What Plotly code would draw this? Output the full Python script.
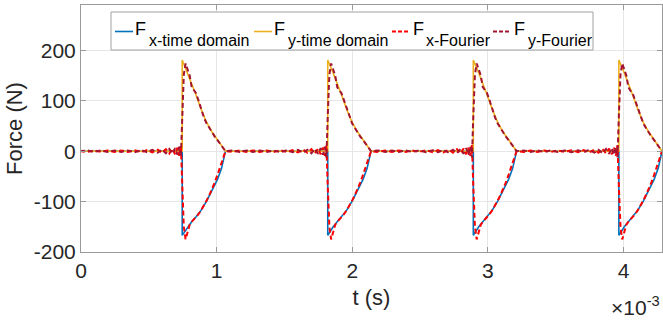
import plotly.graph_objects as go

# time unit: 1e-3 s
pulse_start = [0.746, 1.819, 2.892, 3.965]

# time-domain pulse shape (offsets from pulse start)
td_off = [-0.754, 0.0, 0.0, 0.04, 0.07, 0.10, 0.14, 0.18, 0.22, 0.26, 0.29, 0.318]
fx_td = [0, 0, -167, -150, -140, -131, -117, -99, -79, -56, -34, 0]
fy_td = [0, 0, 181, 155, 132, 113, 83, 57, 38, 23, 11, 0]

# Fourier reconstruction shape (offsets from pulse start)
fr_off = [-0.754, -0.70, -0.65, -0.60, -0.55, -0.50, -0.45, -0.40, -0.35, -0.30,
          -0.26, -0.22, -0.18, -0.15, -0.12, -0.095, -0.072, -0.052, -0.035, -0.022,
          -0.01, 0.0, 0.012, 0.025, 0.04, 0.055, 0.07, 0.085, 0.10, 0.12, 0.14,
          0.16, 0.18, 0.20, 0.22, 0.24, 0.26, 0.28, 0.30, 0.318]
fx_fr = [0, -1.5, 1.5, -1.5, 1.5, -1.5, 1.5, -1.5, 2, -2, 2, -2.5, 3, -3, 4, -4.5,
         5, -6, 7, -9, 12, -70, -150, -175, -160, -146, -140, -136, -131, -125, -117,
         -108, -98, -87, -75, -62, -47, -30, -14, 0]
fy_fr = [0, 1.5, -1.5, 1.5, -1.5, 1.5, -1.5, 1.5, -2, 2, -2, 2.5, -3, 3, -4, 4.5,
         -5, 6, -7, 9, -12, 70, 152, 174, 162, 150, 127, 120, 116, 101, 82, 67, 55,
         46, 37, 29, 22, 14, 6, 0]

x_ticks = [0, 1, 2, 3, 4]
y_ticks = [-200, -100, 0, 100, 200]

series_names = ["x-time domain", "y-time domain", "x-Fourier", "y-Fourier"]
series_colors = ["#0072BD", "#EDB120", "#FF0000", "#A2142F"]


def build(offsets, values):
    xs, ys = [], []
    for s in pulse_start:
        xs += [s + o for o in offsets]
        ys += list(values)
    return xs, ys


fig = go.Figure()
x1, y1 = build(td_off, fx_td)
x2, y2 = build(td_off, fy_td)
x3, y3 = build(fr_off, fx_fr)
x4, y4 = build(fr_off, fy_fr)

dash_style = "5px,3px"
fig.add_trace(go.Scatter(x=x1, y=y1, mode="lines", name="F<sub>x-time domain</sub>",
                         line=dict(color=series_colors[0], width=1.6)))
fig.add_trace(go.Scatter(x=x2, y=y2, mode="lines", name="F<sub>y-time domain</sub>",
                         line=dict(color=series_colors[1], width=1.6)))
fig.add_trace(go.Scatter(x=x3, y=y3, mode="lines", name="F<sub>x-Fourier</sub>",
                         line=dict(color=series_colors[2], width=2, dash=dash_style)))
fig.add_trace(go.Scatter(x=x4, y=y4, mode="lines", name="F<sub>y-Fourier</sub>",
                         line=dict(color=series_colors[3], width=2, dash=dash_style)))

font_family = "Liberation Sans, Arial, sans-serif"
axis_common = dict(showline=True, linecolor="#9a9a9a", linewidth=1, mirror="ticks",
                   ticks="inside", ticklen=5, tickcolor="#9a9a9a", showgrid=True,
                   gridcolor="#e6e6e6", gridwidth=1, zeroline=False,
                   tickfont=dict(size=21, color="#262626", family=font_family))

# plot-area geometry in pixels (for legend box placement)
L, R, T, B = 81, 662, 5, 252


def px_x(p):
    return (p - L) / (R - L)


def px_y(p):
    return (B - p) / (B - T)


# custom MATLAB-style legend
shapes = [dict(type="rect", xref="paper", yref="paper",
               x0=px_x(111), x1=px_x(593), y0=px_y(50), y1=px_y(12),
               fillcolor="white", line=dict(color="#a0a0a0", width=1), layer="above")]
annotations = []
sample_x = [115, 254, 392, 493]
f_x = [134, 273, 412, 513]
sub_x = [148, 287, 425, 527]
for i, name in enumerate(series_names):
    shapes.append(dict(type="line", xref="paper", yref="paper",
                       x0=px_x(sample_x[i]), x1=px_x(sample_x[i] + 18),
                       y0=px_y(31.5), y1=px_y(31.5), layer="above",
                       line=dict(color=series_colors[i], width=2 if i >= 2 else 1.6,
                                 dash="4px,2px" if i >= 2 else "solid")))
    annotations.append(dict(text="F", xref="paper", yref="paper",
                            x=px_x(f_x[i]), y=px_y(29.5), xanchor="left", yanchor="middle",
                            showarrow=False, borderpad=0,
                            font=dict(size=18, color="#000000", family=font_family)))
    annotations.append(dict(text=name, xref="paper", yref="paper",
                            x=px_x(sub_x[i]), y=px_y(40.5), xanchor="left", yanchor="middle",
                            showarrow=False, borderpad=0,
                            font=dict(size=16, color="#000000", family=font_family)))

annotations.append(dict(text="\u00d710<sup>-3</sup>", xref="paper", yref="paper",
                        x=px_x(661), y=px_y(306), xanchor="right", yanchor="middle",
                        showarrow=False, borderpad=0,
                        font=dict(size=21, color="#262626", family=font_family)))

fig.update_layout(
    width=663, height=321,
    margin=dict(l=L, r=663 - R, t=T, b=321 - B),
    paper_bgcolor="white", plot_bgcolor="white",
    font=dict(family=font_family, color="#262626"),
    xaxis=dict(range=[0, 4.283], tickvals=x_ticks, ticktext=[str(v) for v in x_ticks],
               title=dict(text="t (s)", font=dict(size=22), standoff=8), **axis_common),
    yaxis=dict(range=[-200, 290], tickvals=y_ticks, ticktext=[str(v) for v in y_ticks],
               title=dict(text="Force (N)", font=dict(size=22), standoff=5), **axis_common),
    showlegend=False,
    shapes=shapes,
    annotations=annotations,
)

fig.write_html("out.html")
